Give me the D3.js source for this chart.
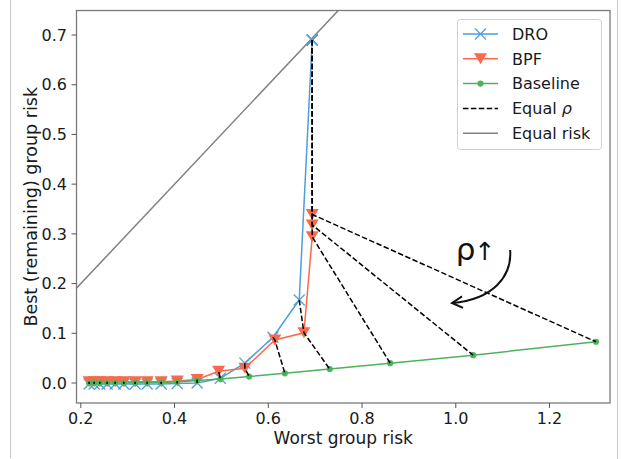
<!DOCTYPE html>
<html><head><meta charset="utf-8">
<script src="https://cdn.jsdelivr.net/npm/d3@7"></script>
<style>body{margin:0;background:#fff}svg{display:block;font-family:"DejaVu Sans",sans-serif}</style>
</head><body><svg id="c" width="622" height="459"></svg>
<script>
// ---- data ----
const droX = [0.2177,0.2284,0.2406,0.2561,0.2732,0.2918,0.3159,0.3415,0.3714,0.4056,0.4482,0.4975,0.5500,0.6100,0.6660,0.6937,0.6937,0.6937];
const droY = [-0.002,-0.002,-0.002,-0.002,-0.002,-0.002,-0.002,-0.002,-0.002,-0.001,0.000,0.0095,0.040,0.092,0.167,0.690,0.690,0.690];
const bpfX = [0.2177,0.2284,0.2406,0.2561,0.2732,0.2918,0.3159,0.3415,0.3714,0.4056,0.4482,0.4940,0.5500,0.6140,0.6760,0.6937,0.6937,0.6937];
const bpfY = [0.0025,0.0025,0.0025,0.0025,0.0025,0.0025,0.0025,0.0025,0.0025,0.004,0.007,0.0235,0.0295,0.0865,0.101,0.294,0.318,0.339];
const baseX = [0.2177,0.2284,0.2406,0.2561,0.2732,0.2918,0.3159,0.3415,0.3714,0.4056,0.4482,0.4982,0.5592,0.6354,0.7310,0.8600,1.0370,1.2990];
const baseY = [0,0,0,0,0,0,0.0005,0.001,0.001,0.002,0.005,0.008,0.013,0.0195,0.028,0.040,0.056,0.083];
const equalRisk = [0, 1.5];
const xTicks = [0.2,0.4,0.6,0.8,1.0,1.2];
const yTicks = [0.0,0.1,0.2,0.3,0.4,0.5,0.6,0.7];
const legendItems = ["DRO","BPF","Baseline","Equal ρ","Equal risk"];

// ---- layout ----
const svg = d3.select("#c");
const L=76.5, R=610, T=10.5, B=403;
const x = d3.scaleLinear().domain([0.1908,1.329]).range([L,R]);
const y = d3.scaleLinear().domain([-0.0402,0.7493]).range([B,T]);
const cDRO="#4f9ed8", cBPF="#f96a4c", cBase="#4db25c";

// page borders
svg.append("line").attr("x1",10.5).attr("x2",10.5).attr("y1",0).attr("y2",458).attr("stroke","#c8c8c8");
svg.append("line").attr("x1",617.5).attr("x2",617.5).attr("y1",0).attr("y2",459).attr("stroke","#c8c8c8");

svg.append("clipPath").attr("id","clip").append("rect").attr("x",L).attr("y",T).attr("width",R-L).attr("height",B-T);
const g = svg.append("g").attr("clip-path","url(#clip)");

// equal risk
g.append("line").attr("x1",x(equalRisk[0])).attr("y1",y(equalRisk[0])).attr("x2",x(equalRisk[1])).attr("y2",y(equalRisk[1]))
 .attr("stroke","#808080").attr("stroke-width",1.5);

const line = d3.line().x(d=>x(d[0])).y(d=>y(d[1]));
const dro = droX.map((v,i)=>[v,droY[i]]);
const bpf = bpfX.map((v,i)=>[v,bpfY[i]]);
const base = baseX.map((v,i)=>[v,baseY[i]]);

// DRO
g.append("path").attr("d",line(dro)).attr("fill","none").attr("stroke",cDRO).attr("stroke-width",1.5);
const xm = 5.5;
g.selectAll(".dx").data(dro).enter().append("path")
 .attr("d",d=>`M${x(d[0])-xm},${y(d[1])-xm}L${x(d[0])+xm},${y(d[1])+xm}M${x(d[0])-xm},${y(d[1])+xm}L${x(d[0])+xm},${y(d[1])-xm}`)
 .attr("stroke",cDRO).attr("stroke-width",1.2).attr("fill","none");
// BPF
g.append("path").attr("d",line(bpf)).attr("fill","none").attr("stroke",cBPF).attr("stroke-width",1.5);
const tw=6.5, th=5.5;
g.selectAll(".bt").data(bpf).enter().append("path")
 .attr("d",d=>`M${x(d[0])-tw},${y(d[1])-th}L${x(d[0])+tw},${y(d[1])-th}L${x(d[0])},${y(d[1])+th}Z`)
 .attr("fill",cBPF);
// Baseline
g.append("path").attr("d",line(base)).attr("fill","none").attr("stroke",cBase).attr("stroke-width",1.5);
g.selectAll(".bc").data(base).enter().append("circle").attr("cx",d=>x(d[0])).attr("cy",d=>y(d[1])).attr("r",3.1).attr("fill",cBase);

// Equal rho dashed
dro.forEach((d,i)=>{
  g.append("path").attr("d",line([d,bpf[i],base[i]])).attr("fill","none")
   .attr("stroke","#000").attr("stroke-width",1.5).attr("stroke-dasharray","5.5,2.4");
});

// frame
svg.append("rect").attr("x",L).attr("y",T).attr("width",R-L).attr("height",B-T).attr("fill","none").attr("stroke","#7a7a7a").attr("stroke-width",1.3);

// axes ticks
const ax = svg.append("g").attr("font-size",16).attr("fill","#1a1a1a");
xTicks.forEach(t=>{
  ax.append("line").attr("x1",x(t)).attr("x2",x(t)).attr("y1",B).attr("y2",B+5).attr("stroke","#555");
  ax.append("text").attr("x",x(t)).attr("y",424).attr("text-anchor","middle").text(d3.format(".1f")(t));
});
yTicks.forEach(t=>{
  ax.append("line").attr("x1",L-5).attr("x2",L).attr("y1",y(t)).attr("y2",y(t)).attr("stroke","#555");
  ax.append("text").attr("x",67).attr("y",y(t)).attr("dy","0.36em").attr("text-anchor","end").text(d3.format(".1f")(t));
});
svg.append("text").attr("x",(L+R)/2).attr("y",444).attr("text-anchor","middle").attr("font-size",17).attr("fill","#1a1a1a").text("Worst group risk");
svg.append("text").attr("transform",`translate(37,${(T+B)/2}) rotate(-90)`).attr("text-anchor","middle").attr("font-size",17.5).attr("fill","#1a1a1a").text("Best (remaining) group risk");

// annotation
const at = svg.append("text").attr("x",x(1.0)).attr("y",y(0.2475)).attr("fill","#111").attr("font-family","DejaVu Sans");
at.append("tspan").attr("font-size",31).text("ρ");
at.append("tspan").attr("font-size",25).attr("dx",-1).attr("font-family","DejaVu Sans").attr("fill","#111").text("\u2191\uFE0E");
const a0=[x(1.116),y(0.2676)], a1=[x(1.12),y(0.215)], a2=[x(1.08),y(0.168)], a3=[x(0.992),y(0.161)];
svg.append("path").attr("d",`M${a0}C${a1} ${a2} ${a3}`).attr("fill","none").attr("stroke","#111").attr("stroke-width",2);
const ang = Math.atan2(a3[1]-a2[1],a3[0]-a2[0]);
const hl=12, ha=0.5;
svg.append("path").attr("d",`M${a3[0]-hl*Math.cos(ang-ha)},${a3[1]-hl*Math.sin(ang-ha)}L${a3}L${a3[0]-hl*Math.cos(ang+ha)},${a3[1]-hl*Math.sin(ang+ha)}`)
 .attr("fill","none").attr("stroke","#111").attr("stroke-width",2);

// legend
const lg = svg.append("g");
lg.append("rect").attr("x",457.5).attr("y",19.5).attr("width",144).attr("height",130).attr("rx",3).attr("fill","#fff").attr("fill-opacity",0.85).attr("stroke","#d0d0d0");
const ly = i=>34+i*24.8;
legendItems.forEach((name,i)=>{
  const yy = ly(i);
  const col = [cDRO,cBPF,cBase,"#000","#808080"][i];
  const ln = lg.append("line").attr("x1",463).attr("x2",498).attr("y1",yy).attr("y2",yy).attr("stroke",col).attr("stroke-width",1.5);
  if(i===3) ln.attr("stroke-dasharray","5.5,2.4");
  if(i===0) lg.append("path").attr("d",`M${480.5-xm},${yy-xm}L${480.5+xm},${yy+xm}M${480.5-xm},${yy+xm}L${480.5+xm},${yy-xm}`).attr("stroke",cDRO).attr("stroke-width",1.2);
  if(i===1) lg.append("path").attr("d",`M${480.5-tw},${yy-th}L${480.5+tw},${yy-th}L${480.5},${yy+th}Z`).attr("fill",cBPF);
  if(i===2) lg.append("circle").attr("cx",480.5).attr("cy",yy).attr("r",3.1).attr("fill",cBase);
  const tx = lg.append("text").attr("x",512).attr("y",yy).attr("dy","0.36em").attr("font-size",16).attr("fill","#1a1a1a");
  if(i===3){ tx.append("tspan").text("Equal "); tx.append("tspan").attr("font-style","italic").text("ρ"); }
  else tx.text(name);
});
</script></body></html>
